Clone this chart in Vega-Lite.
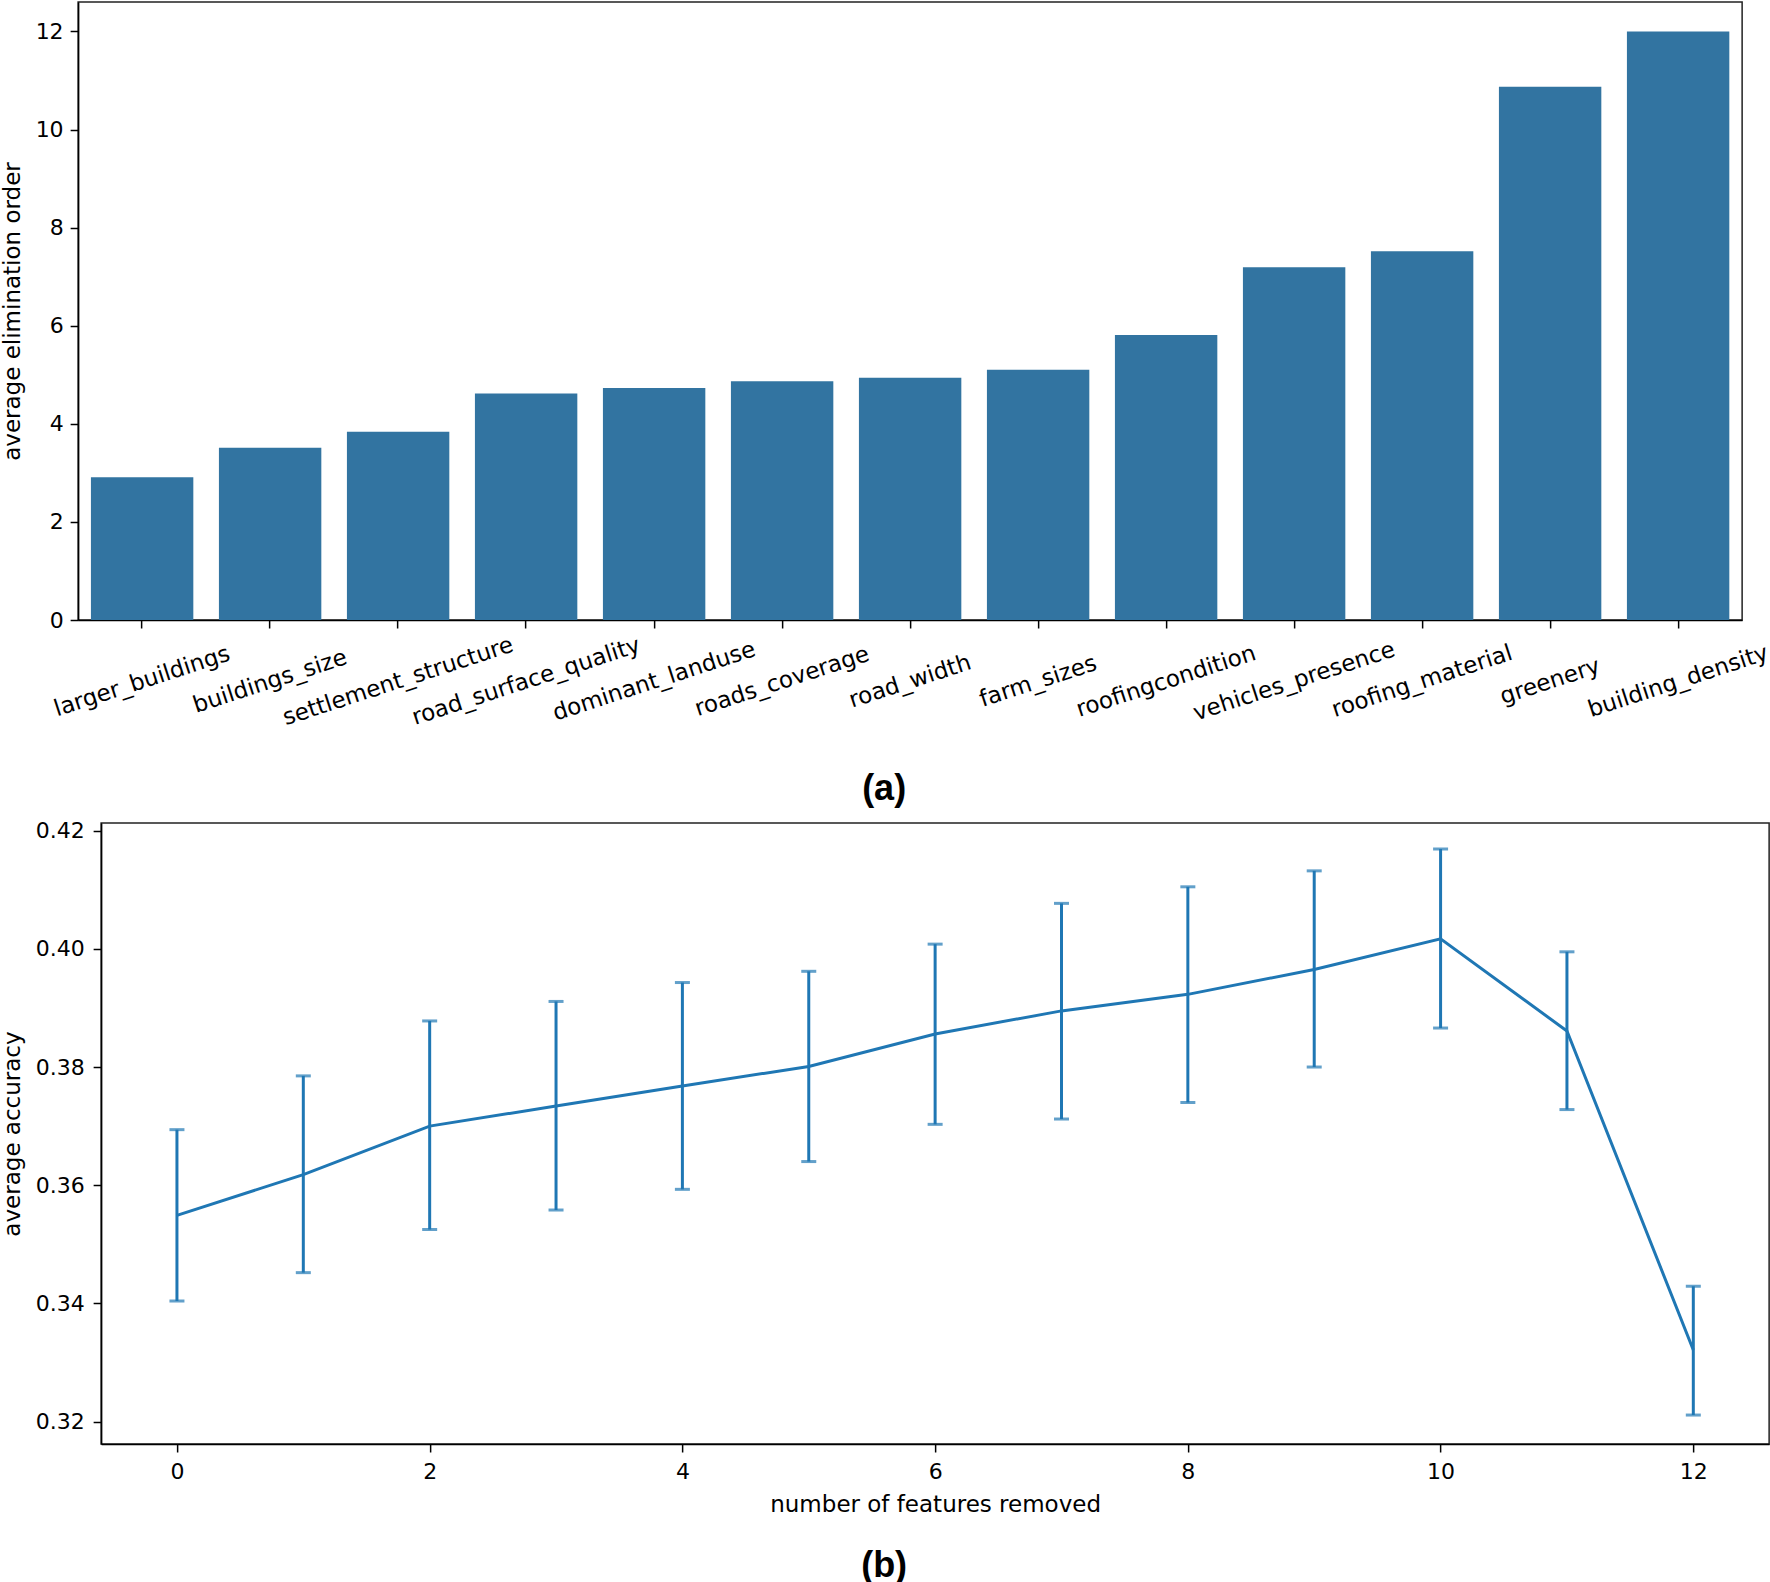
{
  "$schema": "https://vega.github.io/schema/vega-lite/v6.json",
  "background": "white",
  "padding": {"left": 0, "top": 1, "right": 0, "bottom": 0},
  "config": {
    "font": "DejaVu Sans",
    "view": {"stroke": "#222222", "strokeWidth": 1.5},
    "axis": {
      "domainColor": "black", "domainWidth": 1.5,
      "tickColor": "black", "tickWidth": 1.5, "tickSize": 8,
      "labelColor": "black", "labelFontSize": 22, "labelLimit": 0,
      "titleColor": "black", "titleFontSize": 23, "titleFontWeight": "normal",
      "grid": false
    },
    "title": {"font": "Liberation Sans", "fontSize": 36, "fontWeight": "bold", "color": "black"}
  },
  "spacing": 10,
  "center": true,
  "vconcat": [
    {
      "width": 1664,
      "height": 618,
      "title": {"text": "(a)", "orient": "bottom", "anchor": "middle", "frame": "group", "dx": -26, "offset": 42},
      "data": {"values": [
        {"feature": "larger_buildings", "order": 2.91},
        {"feature": "buildings_size", "order": 3.51},
        {"feature": "settlement_structure", "order": 3.84},
        {"feature": "road_surface_quality", "order": 4.62},
        {"feature": "dominant_landuse", "order": 4.73},
        {"feature": "roads_coverage", "order": 4.87},
        {"feature": "road_width", "order": 4.94},
        {"feature": "farm_sizes", "order": 5.10},
        {"feature": "roofingcondition", "order": 5.81},
        {"feature": "vehicles_presence", "order": 7.19},
        {"feature": "roofing_material", "order": 7.52},
        {"feature": "greenery", "order": 10.87},
        {"feature": "building_density", "order": 12.0}
      ]},
      "encoding": {
        "x": {
          "field": "feature", "type": "nominal", "sort": null,
          "scale": {"paddingInner": 0.2, "paddingOuter": 0.1},
          "axis": {"title": null, "labelAngle": -18, "labelAlign": "center", "labelBaseline": "middle", "labelPadding": 53, "labelFontSize": 23, "labelOverlap": false}
        }
      },
      "layer": [
        {
          "mark": {"type": "bar", "color": "#3274a1"},
          "encoding": {
            "y": {
              "field": "order", "type": "quantitative",
              "scale": {"domain": [0, 12.6], "nice": false},
              "axis": {"title": "average elimination order", "values": [0, 2, 4, 6, 8, 10, 12], "labelPadding": 7, "titlePadding": 11}
            }
          }
        },
        {
          "mark": {"type": "bar", "opacity": 0},
          "encoding": {
            "y": {
              "field": "order", "type": "quantitative",
              "axis": {"orient": "right", "title": " ", "titleOpacity": 0, "titlePadding": 27, "labels": false, "ticks": false, "domain": false}
            }
          }
        }
      ],
      "resolve": {"scale": {"y": "shared"}, "axis": {"y": "independent"}}
    },
    {
      "width": 1668,
      "height": 621,
      "title": {"text": "(b)", "orient": "bottom", "anchor": "middle", "frame": "group", "dx": -51, "offset": 33},
      "data": {"values": [
        {"removed": 0, "acc": 0.3549, "lo": 0.3404, "hi": 0.3694},
        {"removed": 1, "acc": 0.3618, "lo": 0.3452, "hi": 0.3785},
        {"removed": 2, "acc": 0.3700, "lo": 0.3525, "hi": 0.3878},
        {"removed": 3, "acc": 0.3734, "lo": 0.3558, "hi": 0.3911},
        {"removed": 4, "acc": 0.3768, "lo": 0.3593, "hi": 0.3943},
        {"removed": 5, "acc": 0.3801, "lo": 0.3640, "hi": 0.3962},
        {"removed": 6, "acc": 0.3856, "lo": 0.3703, "hi": 0.4008},
        {"removed": 7, "acc": 0.3895, "lo": 0.3712, "hi": 0.4077},
        {"removed": 8, "acc": 0.3923, "lo": 0.3740, "hi": 0.4105},
        {"removed": 9, "acc": 0.3965, "lo": 0.3800, "hi": 0.4132},
        {"removed": 10, "acc": 0.4017, "lo": 0.3866, "hi": 0.4169},
        {"removed": 11, "acc": 0.3861, "lo": 0.3728, "hi": 0.3995},
        {"removed": 12, "acc": 0.3321, "lo": 0.3211, "hi": 0.3429}
      ]},
      "encoding": {
        "x": {
          "field": "removed", "type": "quantitative",
          "scale": {"domain": [-0.6, 12.6], "nice": false, "zero": false},
          "axis": {"title": "number of features removed", "values": [0, 2, 4, 6, 8, 10, 12], "labelPadding": 9, "titlePadding": 11}
        }
      },
      "layer": [
        {
          "mark": {"type": "rule", "color": "#1f77b4", "strokeWidth": 3},
          "encoding": {
            "y": {
              "field": "lo", "type": "quantitative", "title": "average accuracy",
              "scale": {"domain": [0.3162, 0.4213], "nice": false, "zero": false},
              "axis": {"values": [0.32, 0.34, 0.36, 0.38, 0.40, 0.42], "format": ".2f", "labelPadding": 9, "titlePadding": 11}
            },
            "y2": {"field": "hi"}
          }
        },
        {
          "mark": {"type": "tick", "orient": "horizontal", "color": "#1f77b4", "size": 15, "thickness": 3},
          "encoding": {"y": {"field": "lo", "type": "quantitative", "title": "average accuracy"}}
        },
        {
          "mark": {"type": "tick", "orient": "horizontal", "color": "#1f77b4", "size": 15, "thickness": 3},
          "encoding": {"y": {"field": "hi", "type": "quantitative", "title": "average accuracy"}}
        },
        {
          "mark": {"type": "line", "color": "#1f77b4", "strokeWidth": 3},
          "encoding": {"y": {"field": "acc", "type": "quantitative", "title": "average accuracy"}}
        }
      ]
    }
  ]
}
